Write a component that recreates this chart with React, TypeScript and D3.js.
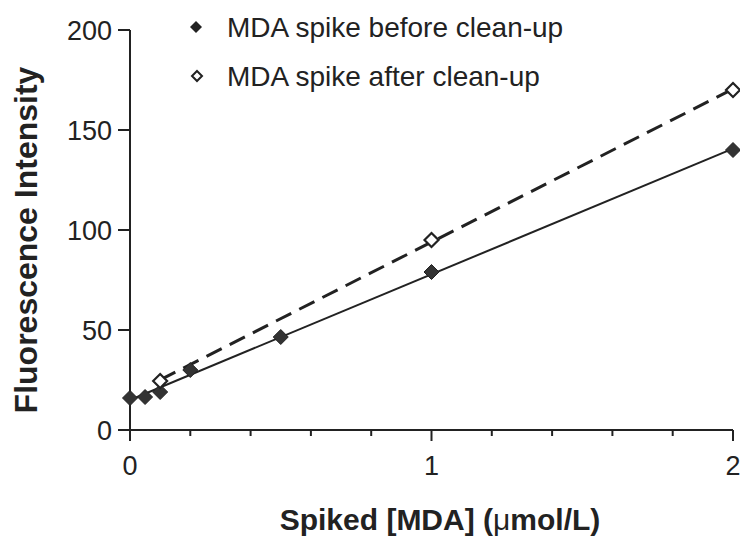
import React from "react";
import * as d3 from "d3";

// Spiked MDA concentration (µmol/L) and measured fluorescence
const beforeX = [0, 0.05, 0.1, 0.2, 0.5, 1, 2];
const beforeY = [16, 16.5, 19, 30, 46.5, 79, 140];
const afterX = [0.1, 1, 2];
const afterY = [24.5, 95, 170];

const yTicks = [0, 50, 100, 150, 200];
const xMajorTicks = [0, 1, 2];
const xMinorTicks = [0.2, 0.4, 0.6, 0.8, 1.2, 1.4, 1.6, 1.8];

const seriesLabels = ["MDA spike before clean-up", "MDA spike after clean-up"];

const W = 740;
const H = 538;
const FONT = "'Liberation Sans', Arial, Helvetica, sans-serif";

// Ordinary least-squares line through a series
function fitLine(xs: number[], ys: number[]) {
  const mx = d3.mean(xs)!;
  const my = d3.mean(ys)!;
  let sxy = 0;
  let sxx = 0;
  xs.forEach((x, i) => {
    sxy += (x - mx) * (ys[i] - my);
    sxx += (x - mx) * (x - mx);
  });
  const slope = sxy / sxx;
  const intercept = my - slope * mx;
  return (x: number) => intercept + slope * x;
}

function diamond(cx: number, cy: number, r: number) {
  return `M${cx},${cy - r}L${cx + r},${cy}L${cx},${cy + r}L${cx - r},${cy}Z`;
}

export default function App() {
  const x = d3.scaleLinear().domain([0, 2]).range([130, 733]);
  const y = d3.scaleLinear().domain([0, 200]).range([430, 30]);

  const fitBefore = fitLine(beforeX, beforeY);
  const fitAfter = fitLine(afterX, afterY);
  const line = d3
    .line<[number, number]>()
    .x((d) => x(d[0]))
    .y((d) => y(d[1]));

  const xb0 = d3.min(beforeX)!;
  const xb1 = d3.max(beforeX)!;
  const xa0 = d3.min(afterX)!;
  const xa1 = d3.max(afterX)!;

  return (
    <svg
      width={W}
      height={H}
      viewBox={`0 0 ${W} ${H}`}
      style={{ position: "absolute", left: 0, top: 0, background: "#fff" }}
      fontFamily={FONT}
    >
      {/* fitted lines */}
      <path
        d={line([
          [xb0, fitBefore(xb0)],
          [xb1, fitBefore(xb1)],
        ])!}
        stroke="#222"
        strokeWidth={2}
        fill="none"
      />
      <path
        d={line([
          [xa0, fitAfter(xa0)],
          [xa1, fitAfter(xa1)],
        ])!}
        stroke="#222"
        strokeWidth={3}
        strokeDasharray="17 9"
        fill="none"
      />

      {/* axes */}
      <line x1={x(0)} x2={x(0)} y1={y(200)} y2={y(0) + 11} stroke="#222" strokeWidth={2} />
      <line x1={x(0) - 12} x2={x(2)} y1={y(0)} y2={y(0)} stroke="#222" strokeWidth={2} />
      {yTicks.map((t) => (
        <g key={"y" + t}>
          <line x1={x(0) - 12} x2={x(0)} y1={y(t)} y2={y(t)} stroke="#222" strokeWidth={2} />
          <text
            x={x(0) - 18}
            y={y(t)}
            dy="0.36em"
            textAnchor="end"
            fontSize={27}
            fill="#222"
          >
            {t}
          </text>
        </g>
      ))}
      {xMajorTicks.map((t) => (
        <g key={"x" + t}>
          <line x1={x(t)} x2={x(t)} y1={y(0)} y2={y(0) + 11} stroke="#222" strokeWidth={2} />
          <text x={x(t)} y={y(0) + 45} textAnchor="middle" fontSize={27} fill="#222">
            {t}
          </text>
        </g>
      ))}
      {xMinorTicks.map((t) => (
        <line
          key={"m" + t}
          x1={x(t)}
          x2={x(t)}
          y1={y(0)}
          y2={y(0) + 6}
          stroke="#222"
          strokeWidth={2}
        />
      ))}

      {/* data points */}
      {beforeX.map((v, i) => (
        <path key={"b" + i} d={diamond(x(v), y(beforeY[i]), 7.5)} fill="#333" stroke="#222" strokeWidth={1} />
      ))}
      {afterX.map((v, i) => (
        <path
          key={"a" + i}
          d={diamond(x(v), y(afterY[i]), 7)}
          fill="#fff"
          stroke="#222"
          strokeWidth={2.2}
        />
      ))}

      {/* legend */}
      <path d={diamond(196, 27, 6)} fill="#222" />
      <text x={227} y={37} fontSize={28} fill="#222">
        {seriesLabels[0]}
      </text>
      <path d={diamond(197, 76, 5)} fill="#fff" stroke="#222" strokeWidth={2} />
      <text x={227} y={86} fontSize={28} fill="#222">
        {seriesLabels[1]}
      </text>

      {/* axis titles */}
      <text
        transform={`translate(37,240) rotate(-90)`}
        textAnchor="middle"
        fontSize={32}
        fontWeight="bold"
        fill="#222"
      >
        Fluorescence Intensity
      </text>
      <text x={440} y={530} textAnchor="middle" fontSize={30} fontWeight="bold" fill="#222">
        Spiked [MDA] (
        <tspan fontWeight="normal">μ</tspan>
        mol/L)
      </text>
    </svg>
  );
}
